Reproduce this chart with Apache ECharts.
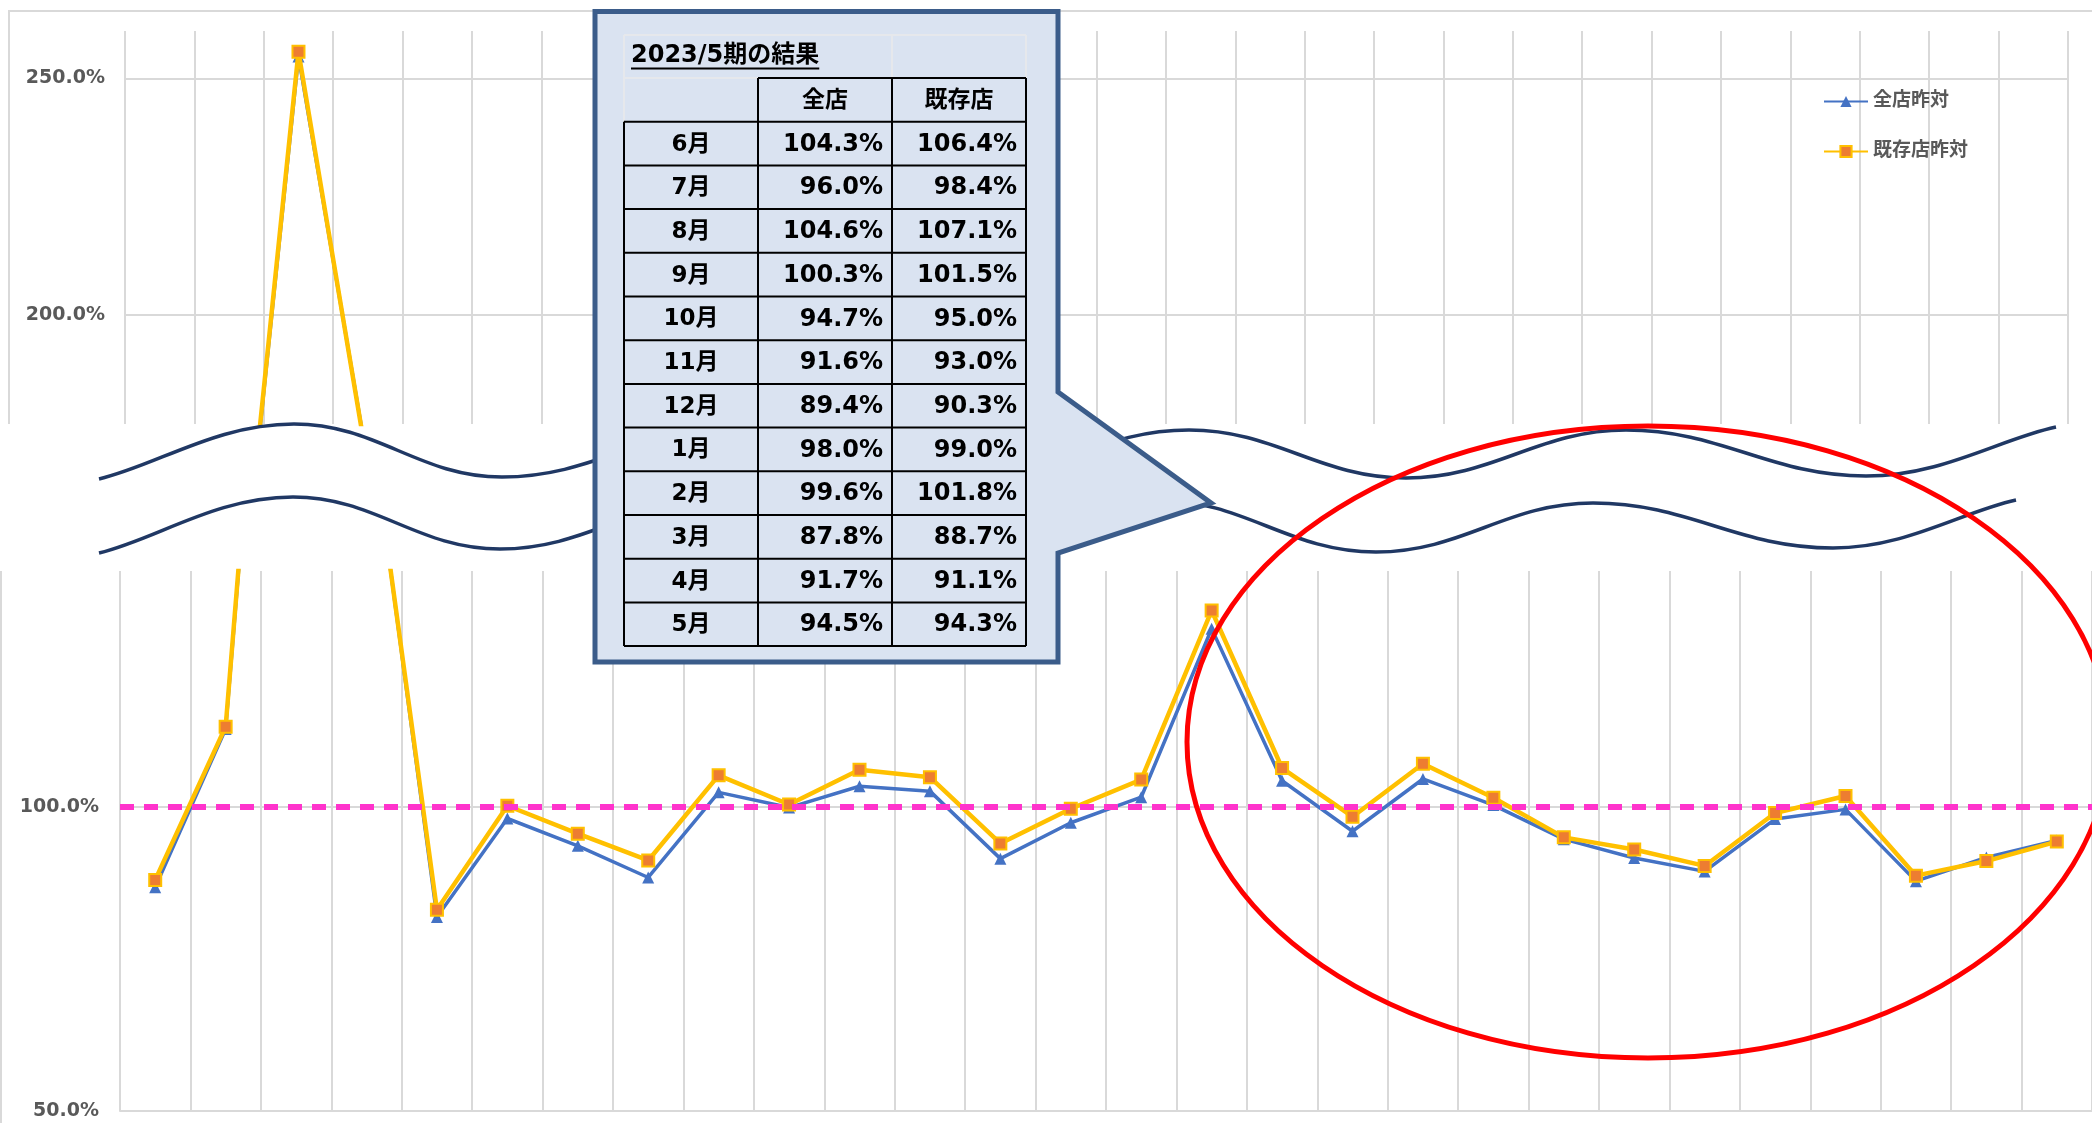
<!DOCTYPE html>
<html><head><meta charset="utf-8">
<script src="https://cdn.jsdelivr.net/npm/echarts@6/dist/echarts.min.js"></script>
<style>html,body{margin:0;padding:0;background:#fff}#c{width:2092px;height:1123px}</style>
</head><body><div id="c"></div>
<script>
// ---------------- data ----------------
const categories = ['2021/2','2021/3','2021/4','2021/5','2021/6','2021/7','2021/8','2021/9','2021/10','2021/11','2021/12','2022/1','2022/2','2022/3','2022/4','2022/5','2022/6','2022/7','2022/8','2022/9','2022/10','2022/11','2022/12','2023/1','2023/2','2023/3','2023/4','2023/5'];
const allStoreYoY = [86.8,112.8,254.6,168.5,81.9,98.1,93.6,88.4,102.4,99.9,103.4,102.6,91.5,97.4,101.6,129.3,104.3,96.0,104.6,100.3,94.7,91.6,89.4,98.0,99.6,87.8,91.7,94.5];
const existingStoreYoY = [88.0,113.2,255.6,168.0,83.1,100.2,95.6,91.2,105.2,100.4,106.1,104.9,94.0,99.7,104.5,132.3,106.4,98.4,107.1,101.5,95.0,93.0,90.3,99.0,101.8,88.7,91.1,94.3];
const seriesNames = ['全店昨対','既存店昨対'];
const topTickValues = [200, 250];
const bottomTickValues = [50, 100];
const baselineValue = 100;
const resultTitle = '2023/5期の結果';
const resultHeaders = ['全店','既存店'];
const resultMonths = ['6月','7月','8月','9月','10月','11月','12月','1月','2月','3月','4月','5月'];
const resultStart = 16; // table rows = last 12 points of each series

// ---------------- styles / layout ----------------
const GRID_C = '#d9d9d9';
const BLUE = '#4472C4', GOLD = '#FFC000', ORANGE = '#ED7D31';
const NAVY = '#203864';
const FONT = '"DejaVu Sans","Noto Sans CJK JP",sans-serif';
const pct = v => v.toFixed(1) + '%';

const chart = echarts.init(document.getElementById('c'), null, {renderer:'canvas'});

function lineSeries(idx, gi) {
  const blue = idx === 0;
  const s = {
    name: seriesNames[idx], type:'line', xAxisIndex: gi, yAxisIndex: gi,
    data: blue ? allStoreYoY : existingStoreYoY,
    clip: true,
    symbol: blue ? 'triangle' : 'rect',
    symbolSize: blue ? 12 : 12,
    lineStyle: {color: blue ? BLUE : GOLD, width: blue ? 3.5 : 4.5},
    itemStyle: blue ? {color: BLUE} : {color: ORANGE, borderColor: GOLD, borderWidth: 2},
    emphasis: {disabled: true},
    z: blue ? 3 : 4
  };
  if (!blue && gi === 1) {
    s.markLine = {
      silent: true, symbol: ['none','none'], label: {show:false},
      lineStyle: {color:'#FF33CC', width:6, type:[14,10]},
      data: [{yAxis: baselineValue}]
    };
  }
  return s;
}

// ---------- decorative graphics ----------
const graphics = [];
graphics.push({type:'polyline', shape:{points:[[9,424],[9,11],[2092,11]]}, style:{stroke:GRID_C, lineWidth:2, fill:'none'}, z:1});
graphics.push({type:'line', shape:{x1:1,y1:571,x2:1,y2:1123}, style:{stroke:GRID_C, lineWidth:2}, z:1});

function wave(pts) {
  for (let i = 1; i < pts.length; i++) {
    const a = pts[i-1], b = pts[i], w = b[0]-a[0];
    const first = i === 1, last = i === pts.length-1;
    graphics.push({type:'bezierCurve', shape:{
      x1:a[0], y1:a[1],
      cpx1:a[0]+w*(first?0.3:0.4), cpy1:a[1]+(first?(b[1]-a[1])*0.25:0),
      cpx2:b[0]-w*(last?0.3:0.4), cpy2:b[1]+(last?(a[1]-b[1])*0.25:0),
      x2:b[0], y2:b[1]}, style:{stroke:NAVY, lineWidth:3.5, fill:'none'}, z:20});
  }
}
wave([[99,479],[294,424],[502,477],[735,428],[965,477],[1189,430],[1406,478],[1626,430],[1866,476],[2056,427]]);
wave([[99,553],[293,497],[500,549],[719,500],[938,550],[1157,500],[1376,552],[1593,503],[1833,548],[2016,500]]);

graphics.push({type:'polygon', shape:{points:[[595,11.5],[1058,11.5],[1058,392],[1211,503],[1058,553],[1058,662],[595,662]]},
  style:{fill:'#DAE3F1', stroke:'#3B5C8A', lineWidth:5, lineJoin:'miter'}, z:30});

const cx = [624, 758, 892, 1026];
const titleTop = 35, headTop = 78, bodyTop = 121.7, rowH = 43.7;
const bodyBottom = bodyTop + rowH * resultMonths.length;
function ln(x1,y1,x2,y2,c,w){graphics.push({type:'line', shape:{x1,y1,x2,y2}, style:{stroke:c, lineWidth:w}, z:31});}
const LIGHT = '#E6E8EC';
ln(cx[0],titleTop,cx[3],titleTop,LIGHT,2);
ln(cx[0],titleTop,cx[0],bodyTop,LIGHT,2);
ln(cx[2],titleTop,cx[2],headTop,LIGHT,2);
ln(cx[3],titleTop,cx[3],headTop,LIGHT,2);
ln(cx[0],headTop,cx[1],headTop,LIGHT,2);
ln(cx[1],headTop,cx[3],headTop,'#000',2);
for (let r = 0; r <= resultMonths.length; r++) ln(cx[0],bodyTop+r*rowH,cx[3],bodyTop+r*rowH,'#000',2);
ln(cx[0],bodyTop,cx[0],bodyBottom,'#000',2);
for (let k = 1; k < 4; k++) ln(cx[k],headTop,cx[k],bodyBottom,'#000',2);

function txt(text,x,y,align,size){
  graphics.push({type:'text', x:0, y:0, style:{text, x, y, fill:'#000', font:'bold '+size+'px '+FONT,
    align, textAlign:align, verticalAlign:'middle', textVerticalAlign:'middle'}, z:32});
}
const titleFont = 'bold 24px ' + FONT;
txt(resultTitle, 631, 56, 'left', 24);
const mctx = document.createElement('canvas').getContext('2d');
mctx.font = titleFont;
const tw = mctx.measureText(resultTitle).width;
ln(631, 68.5, 631 + tw, 68.5, '#000', 2);
txt(resultHeaders[0], (cx[1]+cx[2])/2, (headTop+bodyTop)/2+1, 'center', 23);
txt(resultHeaders[1], (cx[2]+cx[3])/2, (headTop+bodyTop)/2+1, 'center', 23);
resultMonths.forEach((m,i)=>{
  const y = bodyTop + rowH*i + rowH/2 + 1;
  txt(m, (cx[0]+cx[1])/2, y, 'center', 23);
  txt(pct(allStoreYoY[resultStart+i]), cx[2]-9, y, 'right', 24);
  txt(pct(existingStoreYoY[resultStart+i]), cx[3]-9, y, 'right', 24);
});

graphics.push({type:'ellipse', shape:{cx:1648, cy:742, rx:461, ry:316}, style:{fill:'none', stroke:'#FF0000', lineWidth:5}, z:40});

const axisLabelStyle = {color:'#595959', fontSize:19, fontWeight:'bold', fontFamily:FONT, formatter: v => pct(v)};

chart.setOption({
  animation: false,
  backgroundColor: '#ffffff',
  grid: [
    {left:125, right:24, top:31, height:393},
    {left:120, right:0, top:571, height:540}
  ],
  legend: {
    data: seriesNames, orient:'vertical', left:1823, top:92,
    itemWidth:44, itemHeight:14, itemGap:31, padding:0,
    textStyle:{color:'#595959', fontSize:19, fontWeight:'bold', fontFamily:FONT},
    selectedMode:false
  },
  xAxis: [0,1].map(gi => ({
    gridIndex: gi, type:'category', data: categories, boundaryGap:true,
    axisLine:{show: gi===1, lineStyle:{color:GRID_C, width:2}},
    axisTick:{show:false}, axisLabel:{show:false},
    splitLine:{show:true, interval:0, lineStyle:{color:GRID_C, width:2}}
  })),
  yAxis: [
    {gridIndex:0, type:'value', min:177, max:260,
      axisLine:{show:false}, axisTick:{show:false, customValues: topTickValues},
      axisLabel:Object.assign({margin:20, customValues: topTickValues}, axisLabelStyle),
      splitLine:{show:true, lineStyle:{color:GRID_C, width:2}}},
    {gridIndex:1, type:'value', min:50, max:138.8,
      axisLine:{show:false}, axisTick:{show:false, customValues: bottomTickValues},
      axisLabel:Object.assign({margin:21, customValues: bottomTickValues}, axisLabelStyle),
      splitLine:{show:true, lineStyle:{color:GRID_C, width:2}}}
  ],
  series: [lineSeries(0,0), lineSeries(1,0), lineSeries(0,1), lineSeries(1,1)],
  graphic: graphics
});
</script></body></html>
